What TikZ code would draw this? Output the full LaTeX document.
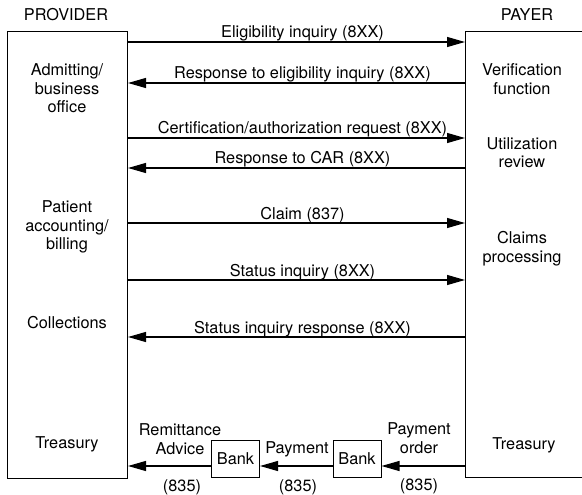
\documentclass[tikz,border=0pt]{standalone}
\usepackage{fontspec}
\setmainfont{TeX Gyre Heros}
\usetikzlibrary{positioning,arrows.meta}

\begin{document}
\begin{tikzpicture}[x=1pt,y=1pt]
    \clip (0,0) rectangle (582,-495);
    \begin{scope}[font=\fontsize{16.3}{18.5}\selectfont, text centered, >={Triangle[length=18pt,width=10pt]},
    		party/.style={rectangle,draw,line width=1pt,inner sep=0pt,anchor=north west},
    		bank/.style={rectangle,draw,line width=1pt,minimum width=48pt,minimum height=37pt,inner sep=0pt},
    		dept/.style={align=center,inner sep=0pt},
    		msg/.style={anchor=base,yshift=4pt,xshift=6pt,inner sep=0pt},
    		arrow/.style={black, line width=1.1pt}]

    % the two parties
    \node[party,minimum width=120pt,minimum height=447pt](prov) at (7,-31) {};
    \node[party,minimum width=140pt,minimum height=446pt](payer) at (465,-31) {};
    \node (provname) at (66,-15) {PROVIDER};
    \node (payname) at (527,-15) {PAYER};

    \node[dept] (admit) at (67,-88.5) {Admitting/\\business\\office};
    \node[dept] (billing) at (67,-227) {Patient\\accounting/\\billing};
    \node[dept] (collect) at (67,-323) {Collections};
    \node[dept] (provtreas) at (67,-444) {Treasury};

    \node[dept] (verify) at (522,-79) {Verification\\function};
    \node[dept] (review) at (522,-152.5) {Utilization\\review};
    \node[dept] (claims) at (522,-248.5) {Claims\\processing};
    \node[dept] (paytreas) at (524,-445) {Treasury};

    % transactions
    \draw[arrow,->] (prov.east |- 0,-42) -- node[msg] {Eligibility inquiry (8XX)} (payer.west |- 0,-42);
    \draw[arrow,<-] (prov.east |- 0,-83) -- node[msg] {Response to eligibility inquiry (8XX)} (payer.west |- 0,-83);
    \draw[arrow,->] (prov.east |- 0,-138) -- node[msg] {Certification/authorization request (8XX)} (payer.west |- 0,-138);
    \draw[arrow,<-] (prov.east |- 0,-168) -- node[msg] {Response to CAR (8XX)} (payer.west |- 0,-168);
    \draw[arrow,->] (prov.east |- 0,-223) -- node[msg] {Claim (837)} (payer.west |- 0,-223);
    \draw[arrow,->] (prov.east |- 0,-280) -- node[msg] {Status inquiry (8XX)} (payer.west |- 0,-280);
    \draw[arrow,<-] (prov.east |- 0,-337) -- node[msg] {Status inquiry response (8XX)} (payer.west |- 0,-337);

    % payment through the banks
    \coordinate (pay) at (0,-466);
    \node[bank] (bankR) at (357,-459) {Bank};
    \node[bank] (bankL) at (235.5,-459) {Bank};
    \draw[arrow,->] (payer.west |- pay) -- (bankR.east |- pay);
    \draw[arrow,->] (bankR.west |- pay) -- (bankL.east |- pay);
    \draw[arrow,->] (bankL.west |- pay) -- (prov.east |- pay);

    \node[dept] (remit) at (180,-439) {Remittance\\Advice};
    \node[dept] (payment) at (297,-449) {Payment};
    \node[dept] (order) at (419,-438) {Payment\\order};
    \node[dept] (codeL) at (182,-487) {(835)};
    \node[dept] (codeM) at (298,-487) {(835)};
    \node[dept] (codeR) at (419,-486) {(835)};

    \end{scope}
\end{tikzpicture}
\end{document}
